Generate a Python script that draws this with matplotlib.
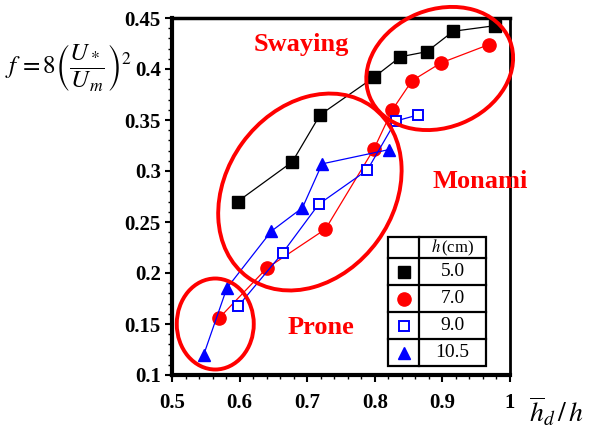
import matplotlib
matplotlib.use("Agg")
import matplotlib.pyplot as plt
from matplotlib.patches import Ellipse, Rectangle
from matplotlib.lines import Line2D
import matplotlib.transforms as mtransforms
from matplotlib.ticker import MultipleLocator, FuncFormatter

plt.rcParams['font.family'] = ['Liberation Serif', 'DejaVu Serif']
plt.rcParams['mathtext.fontset'] = 'stix'

# ---- data ----
h_labels = ["5.0", "7.0", "9.0", "10.5"]
x_50 = [0.597, 0.678, 0.719, 0.799, 0.838, 0.877, 0.916, 0.978]
y_50 = [0.270, 0.309, 0.355, 0.392, 0.412, 0.417, 0.437, 0.4425]
x_70 = [0.570, 0.640, 0.727, 0.799, 0.826, 0.855, 0.898, 0.969]
y_70 = [0.156, 0.2046, 0.243, 0.322, 0.360, 0.3885, 0.406, 0.424]
x_90 = [0.598, 0.664, 0.717, 0.789, 0.831, 0.864]
y_90 = [0.1676, 0.220, 0.2674, 0.301, 0.349, 0.355]
x_105 = [0.547, 0.581, 0.647, 0.693, 0.722, 0.821]
y_105 = [0.120, 0.185, 0.241, 0.264, 0.307, 0.321]
xticks = [0.5, 0.6, 0.7, 0.8, 0.9, 1.0]
yticks = [0.1, 0.15, 0.2, 0.25, 0.3, 0.35, 0.4, 0.45]

W, H = 589, 437
fig = plt.figure(figsize=(W / 100, H / 100), dpi=100)
ax = fig.add_axes([172 / W, 1 - 375 / H, (510 - 172) / W, (375 - 18) / H])

styles = [
    dict(color='black', marker='s', ms=8.5, mfc='black', mec='black'),
    dict(color='red', marker='o', ms=9.5, mfc='red', mec='red'),
    dict(color='blue', marker='s', ms=7.5, mfc='white', mec='blue', mew=1.4),
    dict(color='blue', marker='^', ms=9, mfc='blue', mec='blue'),
]
series = [(x_50, y_50), (x_70, y_70), (x_90, y_90), (x_105, y_105)]
for (xs, ys), st in zip(series, styles):
    ax.plot(xs, ys, lw=0.9, clip_on=False, zorder=3, **st)

ax.set_xlim(0.5, 1.0)
ax.set_ylim(0.1, 0.45)
ax.set_xticks(xticks)
ax.set_yticks(yticks)
ax.xaxis.set_minor_locator(MultipleLocator(0.02))
ax.yaxis.set_minor_locator(MultipleLocator(0.01))
fmt = FuncFormatter(lambda v, p: ('%g' % round(v, 3)))
ax.xaxis.set_major_formatter(fmt)
ax.yaxis.set_major_formatter(fmt)
ax.tick_params(which='major', direction='out', length=5, width=1.5,
               labelsize=15, pad=8)
ax.tick_params(which='minor', direction='out', length=3, width=1.0)
for lab in ax.get_xticklabels() + ax.get_yticklabels():
    lab.set_fontweight('bold')
ax.tick_params(axis='y', pad=3)
ax.spines['left'].set_linewidth(3)
ax.spines['bottom'].set_linewidth(3)
ax.spines['top'].set_linewidth(2.5)
ax.spines['right'].set_linewidth(2)

# ---- ellipses (annotation shapes) ----
def ellipse(cx, cy, w_in, h_in, ang):
    tr = fig.dpi_scale_trans + mtransforms.ScaledTranslation(cx, cy, ax.transData)
    e = Ellipse((0, 0), w_in, h_in, angle=ang, transform=tr, fill=False,
                ec='red', lw=2.8, clip_on=False, zorder=5)
    fig.add_artist(e)

ellipse(0.704, 0.2794, 2.11, 1.67, 54)
ellipse(0.896, 0.4005, 1.51, 1.18, 22)
ellipse(0.564, 0.150, 0.77, 0.91, 0)

# ---- region labels ----
def fig_xy(px, py):
    return px / W, 1 - py / H

for txt, (px, py) in [("Swaying", (301, 44)), ("Monami", (480, 181)), ("Prone", (321, 327))]:
    fig.text(*fig_xy(px, py), txt, color='red', fontsize=19, fontweight='bold',
             ha='center', va='center', zorder=6)

# ---- legend table ----
x0, x1, xm = 388, 486, 419
rows = [237, 258, 285, 312, 339, 366]
fig.add_artist(Rectangle(fig_xy(x0, rows[-1]), (x1 - x0) / W, (rows[-1] - rows[0]) / H,
                         transform=fig.transFigure, fc='white', ec='black', lw=1.6, zorder=7))
fig.add_artist(Line2D([xm / W, xm / W], [1 - rows[0] / H, 1 - rows[-1] / H],
                      transform=fig.transFigure, color='black', lw=1.6, zorder=8))
for r in rows[1:-1]:
    fig.add_artist(Line2D([x0 / W, x1 / W], [1 - r / H, 1 - r / H],
                          transform=fig.transFigure, color='black', lw=1.6, zorder=8))
fig.text(*fig_xy((xm + x1) / 2, (rows[0] + rows[1]) / 2), r'$h\,$(cm)', fontsize=12,
         ha='center', va='center', zorder=9)
for i, (lab, st) in enumerate(zip(h_labels, styles)):
    cy = (rows[i + 1] + rows[i + 2]) / 2
    mx, my = fig_xy((x0 + xm) / 2, cy)
    fig.add_artist(Line2D([mx], [my], transform=fig.transFigure, ls='none',
                          zorder=9, **{k: v for k, v in st.items() if k != 'color'}))
    fig.text(*fig_xy((xm + x1) / 2, cy), lab, fontsize=14, ha='center', va='center', zorder=9)

# ---- axis labels ----
fig.text(*fig_xy(584, 412), r'$\overline{h}_d\,/\,h$', fontsize=20, ha='right', va='center')
fig.text(*fig_xy(5, 68), r'$f\,=8\left(\dfrac{U_*}{U_m}\right)^2$', fontsize=18,
         ha='left', va='center')

fig.savefig('out.png', dpi=100)
